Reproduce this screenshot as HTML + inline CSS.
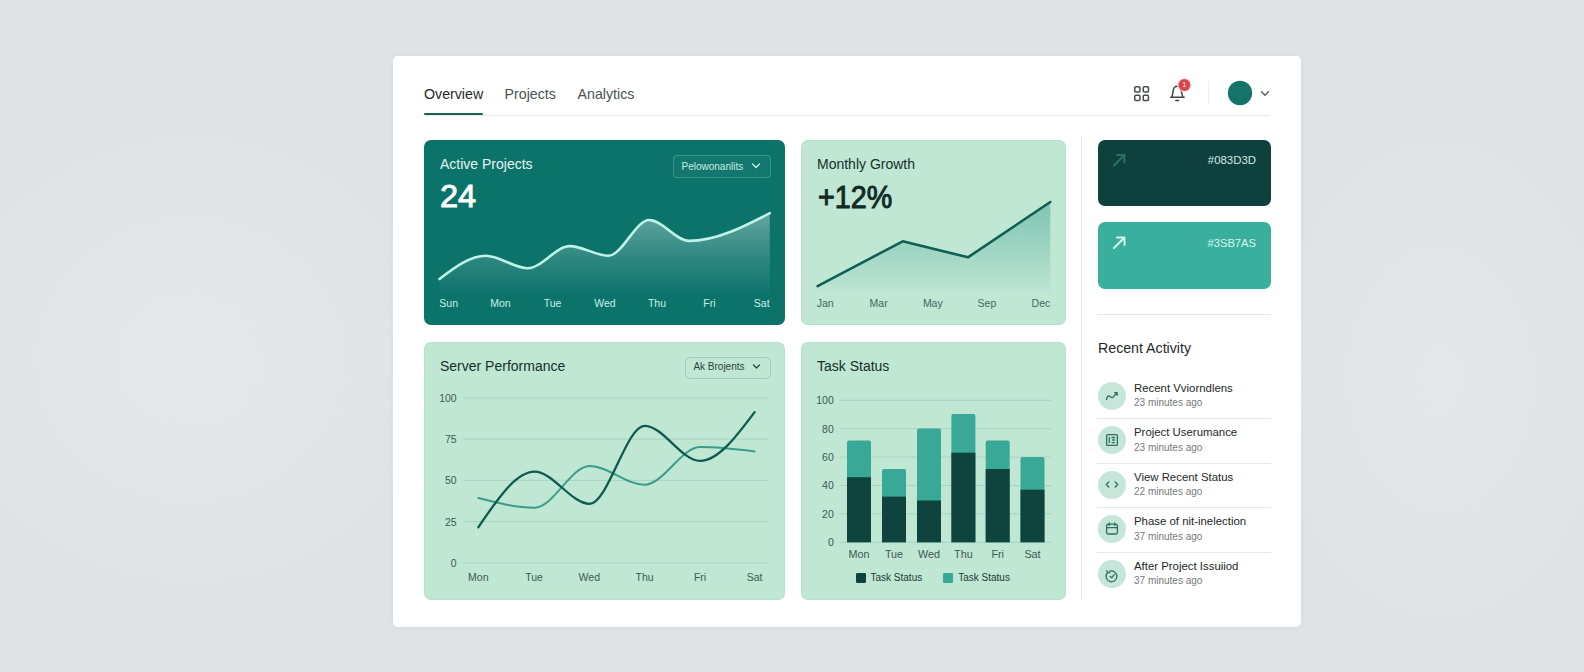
<!DOCTYPE html>
<html><head><meta charset="utf-8">
<style>
html,body{margin:0;padding:0;}
body{width:1584px;height:672px;overflow:hidden;position:relative;background:radial-gradient(ellipse 260px 240px at 190px 360px, rgba(234,237,239,0.6), rgba(236,239,241,0)),radial-gradient(ellipse 180px 260px at 1440px 380px, rgba(234,237,239,0.5), rgba(236,239,241,0)),#dfe3e5;font-family:"Liberation Sans", sans-serif;}
.t{position:absolute;white-space:nowrap;}
.b{position:absolute;}
svg{position:absolute;left:0;top:0;}
</style></head><body>
<div class="b" style="left:393px;top:56px;width:908px;height:571px;background:#ffffff;border-radius:5px;box-shadow:0 0 6px rgba(0,0,0,0.04);"></div>
<div class="t" style="left:424.00px;top:86.98px;font-size:14.2px;line-height:14.2px;color:#1f2a2a;font-weight:normal;">Overview</div>
<div class="t" style="left:504.60px;top:86.98px;font-size:14.2px;line-height:14.2px;color:#4a5252;font-weight:normal;">Projects</div>
<div class="t" style="left:577.60px;top:86.98px;font-size:14.2px;line-height:14.2px;color:#4a5252;font-weight:normal;">Analytics</div>
<div class="b" style="left:424px;top:114.5px;width:846px;height:1px;background:#e6e9e9;border-radius:0px;"></div>
<div class="b" style="left:424px;top:113px;width:58.5px;height:2.2px;background:#1d5e57;border-radius:1px;"></div>
<div class="b" style="left:424px;top:140px;width:361px;height:185px;background:#0c736b;border-radius:7px;"></div>
<div class="b" style="left:801px;top:140px;width:265px;height:185px;background:#c0e6d4;border-radius:7px;box-shadow:inset 0 0 0 1px rgba(90,150,130,0.07);"></div>
<div class="b" style="left:424px;top:341.5px;width:361px;height:258.5px;background:#c0e6d4;border-radius:7px;box-shadow:inset 0 0 0 1px rgba(90,150,130,0.07);"></div>
<div class="b" style="left:801px;top:341.5px;width:265px;height:258.5px;background:#c0e6d4;border-radius:7px;box-shadow:inset 0 0 0 1px rgba(90,150,130,0.07);"></div>
<div class="b" style="left:1081px;top:137px;width:1.2px;height:463px;background:#e6e8e8;border-radius:0px;"></div>
<div class="b" style="left:1098px;top:140px;width:173px;height:66px;background:#0e403d;border-radius:7px;"></div>
<div class="b" style="left:1098px;top:222px;width:173px;height:67px;background:#3aaf9d;border-radius:7px;"></div>
<div class="b" style="left:1097px;top:313.5px;width:174px;height:1px;background:#e4e7e7;border-radius:0px;"></div>
<div class="t" style="left:440.00px;top:157.15px;font-size:14px;line-height:14px;color:#e6f5f1;font-weight:normal;">Active Projects</div>
<div class="t" style="left:439.50px;top:181.36px;font-size:31px;line-height:31px;color:#ffffff;font-weight:normal;-webkit-text-stroke:0.9px #ffffff;transform:scaleX(1.05);transform-origin:0 50%;">24</div>
<div class="t" style="left:817.00px;top:157.15px;font-size:14px;line-height:14px;color:#15302c;font-weight:normal;">Monthly Growth</div>
<div class="t" style="left:818.00px;top:183.51px;font-size:28.7px;line-height:28.7px;color:#102a26;font-weight:normal;-webkit-text-stroke:0.9px #102a26;transform:scaleY(1.08);transform-origin:0 85%;">+12%</div>
<div class="t" style="left:440.00px;top:359.15px;font-size:14px;line-height:14px;color:#15302c;font-weight:normal;">Server Performance</div>
<div class="t" style="left:817.00px;top:359.15px;font-size:14px;line-height:14px;color:#15302c;font-weight:normal;">Task Status</div>
<div class="t" style="left:1098.00px;top:340.98px;font-size:14.2px;line-height:14.2px;color:#1f2a2a;font-weight:normal;">Recent Activity</div>
<div class="b" style="left:673px;top:155px;width:96px;height:21px;background:rgba(255,255,255,0.03);border-radius:4px;border:1px solid rgba(110,200,185,0.38);"></div>
<div class="t" style="left:681.50px;top:161.53px;font-size:10px;line-height:10px;color:#c6ebe2;font-weight:normal;">Pelowonanlits</div>
<div class="b" style="left:685px;top:357px;width:84px;height:20px;background:transparent;border-radius:4px;border:1px solid rgba(120,170,155,0.45);"></div>
<div class="t" style="left:693.40px;top:362.24px;font-size:10px;line-height:10px;color:#2a453f;font-weight:normal;">Ak Brojents</div>
<div class="t" style="left:248.70px;width:400px;text-align:center;top:298.41px;font-size:10.5px;line-height:10.5px;color:#c6f0e6;font-weight:normal;">Sun</div>
<div class="t" style="left:300.40px;width:400px;text-align:center;top:298.41px;font-size:10.5px;line-height:10.5px;color:#c6f0e6;font-weight:normal;">Mon</div>
<div class="t" style="left:352.60px;width:400px;text-align:center;top:298.41px;font-size:10.5px;line-height:10.5px;color:#c6f0e6;font-weight:normal;">Tue</div>
<div class="t" style="left:404.90px;width:400px;text-align:center;top:298.41px;font-size:10.5px;line-height:10.5px;color:#c6f0e6;font-weight:normal;">Wed</div>
<div class="t" style="left:457.00px;width:400px;text-align:center;top:298.41px;font-size:10.5px;line-height:10.5px;color:#c6f0e6;font-weight:normal;">Thu</div>
<div class="t" style="left:509.40px;width:400px;text-align:center;top:298.41px;font-size:10.5px;line-height:10.5px;color:#c6f0e6;font-weight:normal;">Fri</div>
<div class="t" style="left:561.70px;width:400px;text-align:center;top:298.41px;font-size:10.5px;line-height:10.5px;color:#c6f0e6;font-weight:normal;">Sat</div>
<div class="t" style="left:625.10px;width:400px;text-align:center;top:298.11px;font-size:10.5px;line-height:10.5px;color:#3f6a60;font-weight:normal;">Jan</div>
<div class="t" style="left:678.60px;width:400px;text-align:center;top:298.11px;font-size:10.5px;line-height:10.5px;color:#3f6a60;font-weight:normal;">Mar</div>
<div class="t" style="left:732.80px;width:400px;text-align:center;top:298.11px;font-size:10.5px;line-height:10.5px;color:#3f6a60;font-weight:normal;">May</div>
<div class="t" style="left:786.90px;width:400px;text-align:center;top:298.11px;font-size:10.5px;line-height:10.5px;color:#3f6a60;font-weight:normal;">Sep</div>
<div class="t" style="left:840.90px;width:400px;text-align:center;top:298.11px;font-size:10.5px;line-height:10.5px;color:#3f6a60;font-weight:normal;">Dec</div>
<div class="t" style="left:56.70px;width:400px;text-align:right;top:392.91px;font-size:10.5px;line-height:10.5px;color:#3b5a53;font-weight:normal;">100</div>
<div class="t" style="left:56.70px;width:400px;text-align:right;top:434.11px;font-size:10.5px;line-height:10.5px;color:#3b5a53;font-weight:normal;">75</div>
<div class="t" style="left:56.70px;width:400px;text-align:right;top:475.31px;font-size:10.5px;line-height:10.5px;color:#3b5a53;font-weight:normal;">50</div>
<div class="t" style="left:56.70px;width:400px;text-align:right;top:516.51px;font-size:10.5px;line-height:10.5px;color:#3b5a53;font-weight:normal;">25</div>
<div class="t" style="left:56.70px;width:400px;text-align:right;top:557.71px;font-size:10.5px;line-height:10.5px;color:#3b5a53;font-weight:normal;">0</div>
<div class="t" style="left:278.30px;width:400px;text-align:center;top:571.51px;font-size:10.5px;line-height:10.5px;color:#3b5a53;font-weight:normal;">Mon</div>
<div class="t" style="left:334.00px;width:400px;text-align:center;top:571.51px;font-size:10.5px;line-height:10.5px;color:#3b5a53;font-weight:normal;">Tue</div>
<div class="t" style="left:389.30px;width:400px;text-align:center;top:571.51px;font-size:10.5px;line-height:10.5px;color:#3b5a53;font-weight:normal;">Wed</div>
<div class="t" style="left:444.60px;width:400px;text-align:center;top:571.51px;font-size:10.5px;line-height:10.5px;color:#3b5a53;font-weight:normal;">Thu</div>
<div class="t" style="left:500.00px;width:400px;text-align:center;top:571.51px;font-size:10.5px;line-height:10.5px;color:#3b5a53;font-weight:normal;">Fri</div>
<div class="t" style="left:554.60px;width:400px;text-align:center;top:571.51px;font-size:10.5px;line-height:10.5px;color:#3b5a53;font-weight:normal;">Sat</div>
<div class="t" style="left:433.80px;width:400px;text-align:right;top:395.21px;font-size:10.5px;line-height:10.5px;color:#3b5a53;font-weight:normal;">100</div>
<div class="t" style="left:433.80px;width:400px;text-align:right;top:423.61px;font-size:10.5px;line-height:10.5px;color:#3b5a53;font-weight:normal;">80</div>
<div class="t" style="left:433.80px;width:400px;text-align:right;top:452.01px;font-size:10.5px;line-height:10.5px;color:#3b5a53;font-weight:normal;">60</div>
<div class="t" style="left:433.80px;width:400px;text-align:right;top:480.41px;font-size:10.5px;line-height:10.5px;color:#3b5a53;font-weight:normal;">40</div>
<div class="t" style="left:433.80px;width:400px;text-align:right;top:508.81px;font-size:10.5px;line-height:10.5px;color:#3b5a53;font-weight:normal;">20</div>
<div class="t" style="left:433.80px;width:400px;text-align:right;top:537.21px;font-size:10.5px;line-height:10.5px;color:#3b5a53;font-weight:normal;">0</div>
<div class="t" style="left:659.00px;width:400px;text-align:center;top:549.36px;font-size:10.8px;line-height:10.8px;color:#3b5a53;font-weight:normal;">Mon</div>
<div class="t" style="left:694.00px;width:400px;text-align:center;top:549.36px;font-size:10.8px;line-height:10.8px;color:#3b5a53;font-weight:normal;">Tue</div>
<div class="t" style="left:729.00px;width:400px;text-align:center;top:549.36px;font-size:10.8px;line-height:10.8px;color:#3b5a53;font-weight:normal;">Wed</div>
<div class="t" style="left:763.40px;width:400px;text-align:center;top:549.36px;font-size:10.8px;line-height:10.8px;color:#3b5a53;font-weight:normal;">Thu</div>
<div class="t" style="left:797.70px;width:400px;text-align:center;top:549.36px;font-size:10.8px;line-height:10.8px;color:#3b5a53;font-weight:normal;">Fri</div>
<div class="t" style="left:832.50px;width:400px;text-align:center;top:549.36px;font-size:10.8px;line-height:10.8px;color:#3b5a53;font-weight:normal;">Sat</div>
<div class="b" style="left:856px;top:572.5px;width:10px;height:10px;background:#0f433d;border-radius:1.2px;"></div>
<div class="b" style="left:943px;top:572.5px;width:10px;height:10px;background:#3aa896;border-radius:1.2px;"></div>
<div class="t" style="left:870.50px;top:572.93px;font-size:10px;line-height:10px;color:#1e3a35;font-weight:normal;">Task Status</div>
<div class="t" style="left:958.20px;top:572.93px;font-size:10px;line-height:10px;color:#1e3a35;font-weight:normal;">Task Status</div>
<div class="t" style="left:856.00px;width:400px;text-align:right;top:154.65px;font-size:11.4px;line-height:11.4px;color:#d5e9e5;font-weight:normal;">#083D3D</div>
<div class="t" style="left:856.00px;width:400px;text-align:right;top:238.12px;font-size:11.2px;line-height:11.2px;color:#d9f6ef;font-weight:normal;">#3SB7AS</div>
<div class="b" style="left:1098px;top:381.5px;width:28px;height:28px;background:#c6e6d9;border-radius:14px;"></div>
<div class="t" style="left:1134.00px;top:382.95px;font-size:11.4px;line-height:11.4px;color:#222826;font-weight:normal;">Recent Vviorndlens</div>
<div class="t" style="left:1134.00px;top:398.44px;font-size:10px;line-height:10px;color:#757a7a;font-weight:normal;">23 minutes ago</div>
<div class="b" style="left:1097px;top:418.0px;width:174px;height:1px;background:#e6e8e8;border-radius:0px;"></div>
<div class="b" style="left:1098px;top:426.0px;width:28px;height:28px;background:#c6e6d9;border-radius:14px;"></div>
<div class="t" style="left:1134.00px;top:427.45px;font-size:11.4px;line-height:11.4px;color:#222826;font-weight:normal;">Project Userumance</div>
<div class="t" style="left:1134.00px;top:442.94px;font-size:10px;line-height:10px;color:#757a7a;font-weight:normal;">23 minutes ago</div>
<div class="b" style="left:1097px;top:462.5px;width:174px;height:1px;background:#e6e8e8;border-radius:0px;"></div>
<div class="b" style="left:1098px;top:470.5px;width:28px;height:28px;background:#c6e6d9;border-radius:14px;"></div>
<div class="t" style="left:1134.00px;top:471.95px;font-size:11.4px;line-height:11.4px;color:#222826;font-weight:normal;">View Recent Status</div>
<div class="t" style="left:1134.00px;top:487.44px;font-size:10px;line-height:10px;color:#757a7a;font-weight:normal;">22 minutes ago</div>
<div class="b" style="left:1097px;top:507.0px;width:174px;height:1px;background:#e6e8e8;border-radius:0px;"></div>
<div class="b" style="left:1098px;top:515.0px;width:28px;height:28px;background:#c6e6d9;border-radius:14px;"></div>
<div class="t" style="left:1134.00px;top:516.45px;font-size:11.4px;line-height:11.4px;color:#222826;font-weight:normal;">Phase of nit-inelection</div>
<div class="t" style="left:1134.00px;top:531.93px;font-size:10px;line-height:10px;color:#757a7a;font-weight:normal;">37 minutes ago</div>
<div class="b" style="left:1097px;top:551.5px;width:174px;height:1px;background:#e6e8e8;border-radius:0px;"></div>
<div class="b" style="left:1098px;top:559.5px;width:28px;height:28px;background:#c6e6d9;border-radius:14px;"></div>
<div class="t" style="left:1134.00px;top:560.95px;font-size:11.4px;line-height:11.4px;color:#222826;font-weight:normal;">After Project Issuiiod</div>
<div class="t" style="left:1134.00px;top:576.43px;font-size:10px;line-height:10px;color:#757a7a;font-weight:normal;">37 minutes ago</div>
<svg width="1584" height="672" viewBox="0 0 1584 672">
<defs>
<linearGradient id="g1" gradientUnits="userSpaceOnUse" x1="0" y1="213" x2="0" y2="296"><stop offset="0" stop-color="#ffffff" stop-opacity="0.36"/><stop offset="0.55" stop-color="#ffffff" stop-opacity="0.14"/><stop offset="1" stop-color="#ffffff" stop-opacity="0"/></linearGradient>
<linearGradient id="g2" gradientUnits="userSpaceOnUse" x1="0" y1="202" x2="0" y2="296"><stop offset="0" stop-color="#2e9a88" stop-opacity="0.45"/><stop offset="1" stop-color="#2e9a88" stop-opacity="0.0"/></linearGradient>
</defs>
<path d="M439.5,279.0 C454.9,267.3 470.3,255.7 485.7,255.7 C499.7,255.7 513.7,268.2 527.7,268.2 C541.7,268.2 555.8,246.1 569.8,246.1 C582.7,246.1 595.5,255.7 608.4,255.7 C622.0,255.7 635.7,220.0 649.3,220.0 C662.5,220.0 675.8,240.9 689.0,240.9 C715.9,240.9 742.9,227.1 769.8,213.2 L769.8,296 L439.5,296 Z" fill="url(#g1)"/>
<path d="M439.5,279.0 C454.9,267.3 470.3,255.7 485.7,255.7 C499.7,255.7 513.7,268.2 527.7,268.2 C541.7,268.2 555.8,246.1 569.8,246.1 C582.7,246.1 595.5,255.7 608.4,255.7 C622.0,255.7 635.7,220.0 649.3,220.0 C662.5,220.0 675.8,240.9 689.0,240.9 C715.9,240.9 742.9,227.1 769.8,213.2" fill="none" stroke="#bff3e7" stroke-width="2.6" stroke-linecap="round"/>
<path d="M817.6,286.1 L902.7,241.3 L968,257.3 L1050.3,202 L1050.3,292 L817.6,292 Z" fill="url(#g2)"/>
<path d="M817.6,286.1 L902.7,241.3 L968,257.3 L1050.3,202" fill="none" stroke="#0f5f55" stroke-width="2.6" stroke-linecap="round" stroke-linejoin="round"/>
<line x1="463.5" y1="398.0" x2="768.7" y2="398.0" stroke="#a9d3c1" stroke-width="1"/>
<line x1="463.5" y1="439.2" x2="768.7" y2="439.2" stroke="#a9d3c1" stroke-width="1"/>
<line x1="463.5" y1="480.4" x2="768.7" y2="480.4" stroke="#a9d3c1" stroke-width="1"/>
<line x1="463.5" y1="521.6" x2="768.7" y2="521.6" stroke="#a9d3c1" stroke-width="1"/>
<line x1="463.5" y1="562.8" x2="768.7" y2="562.8" stroke="#a9d3c1" stroke-width="1"/>
<path d="M478.3,497.9 C497.1,502.8 515.8,507.7 534.6,507.7 C552.9,507.7 571.3,466.1 589.6,466.1 C607.9,466.1 626.3,484.8 644.6,484.8 C663.1,484.8 681.5,447.1 700.0,447.1 C718.2,447.1 736.4,449.2 754.6,451.4" fill="none" stroke="#3a9d89" stroke-width="2" stroke-linecap="round"/>
<path d="M478.3,527.3 C497.1,499.5 515.8,471.7 534.6,471.7 C552.9,471.7 571.3,503.8 589.6,503.8 C607.9,503.8 626.3,425.8 644.6,425.8 C663.1,425.8 681.5,460.9 700.0,460.9 C718.2,460.9 736.4,436.5 754.6,412.1" fill="none" stroke="#0d5a4f" stroke-width="2.3" stroke-linecap="round"/>
<line x1="839.4" y1="400.3" x2="1051.2" y2="400.3" stroke="#a9d3c1" stroke-width="1"/>
<line x1="839.4" y1="428.7" x2="1051.2" y2="428.7" stroke="#a9d3c1" stroke-width="1"/>
<line x1="839.4" y1="457.1" x2="1051.2" y2="457.1" stroke="#a9d3c1" stroke-width="1"/>
<line x1="839.4" y1="485.5" x2="1051.2" y2="485.5" stroke="#a9d3c1" stroke-width="1"/>
<line x1="839.4" y1="513.9" x2="1051.2" y2="513.9" stroke="#a9d3c1" stroke-width="1"/>
<line x1="839.4" y1="542.3" x2="1051.2" y2="542.3" stroke="#a9d3c1" stroke-width="1"/>
<path d="M847,542.3 V442.6 Q847,440.6 849,440.6 H869 Q871,440.6 871,442.6 V542.3 Z" fill="#3aa896"/>
<rect x="847" y="477.2" width="24" height="65.09999999999997" fill="#0f433d"/>
<path d="M882,542.3 V471 Q882,469 884,469 H904 Q906,469 906,471 V542.3 Z" fill="#3aa896"/>
<rect x="882" y="496.6" width="24" height="45.69999999999993" fill="#0f433d"/>
<path d="M917,542.3 V430.5 Q917,428.5 919,428.5 H939 Q941,428.5 941,430.5 V542.3 Z" fill="#3aa896"/>
<rect x="917" y="500.5" width="24" height="41.799999999999955" fill="#0f433d"/>
<path d="M951.4,542.3 V416 Q951.4,414 953.4,414 H973.4 Q975.4,414 975.4,416 V542.3 Z" fill="#3aa896"/>
<rect x="951.4" y="452.7" width="24" height="89.59999999999997" fill="#0f433d"/>
<path d="M985.7,542.3 V442.6 Q985.7,440.6 987.7,440.6 H1007.7 Q1009.7,440.6 1009.7,442.6 V542.3 Z" fill="#3aa896"/>
<rect x="985.7" y="469" width="24" height="73.29999999999995" fill="#0f433d"/>
<path d="M1020.5,542.3 V459 Q1020.5,457 1022.5,457 H1042.5 Q1044.5,457 1044.5,459 V542.3 Z" fill="#3aa896"/>
<rect x="1020.5" y="489.7" width="24" height="52.599999999999966" fill="#0f433d"/>
<path d="M752.5,164 L756,167.5 L759.5,164" fill="none" stroke="#cdeee6" stroke-width="1.3" stroke-linecap="round" stroke-linejoin="round"/>
<path d="M753.5,365 L756.5,368 L759.5,365" fill="none" stroke="#2a453f" stroke-width="1.2" stroke-linecap="round" stroke-linejoin="round"/>
<path d="M1114,165.5 L1124.5,155 M1117,155 H1124.5 V162.5" fill="none" stroke="#2a7364" stroke-width="2" stroke-linecap="round" stroke-linejoin="round"/>
<path d="M1114,248 L1124.5,237.5 M1117,237.5 H1124.5 V245" fill="none" stroke="#d6f7ef" stroke-width="2" stroke-linecap="round" stroke-linejoin="round"/>
<rect x="1134.75" y="86.75" width="5.2" height="5.2" rx="1" fill="none" stroke="#474d4d" stroke-width="1.5"/>
<rect x="1143.25" y="86.75" width="5.2" height="5.2" rx="1" fill="none" stroke="#474d4d" stroke-width="1.5"/>
<rect x="1134.75" y="95.25" width="5.2" height="5.2" rx="1" fill="none" stroke="#474d4d" stroke-width="1.5"/>
<rect x="1143.25" y="95.25" width="5.2" height="5.2" rx="1" fill="none" stroke="#474d4d" stroke-width="1.5"/>
<path d="M1170.6,97.3 H1184.2 M1171.9,97.3 L1173.3,90.2 C1173.8,87.6 1175.2,86.3 1177.2,86.3 C1179.2,86.3 1180.6,87.6 1181.1,90.2 L1182.8,97.3 M1175.9,100.4 H1178.5" fill="none" stroke="#3f4545" stroke-width="1.5" stroke-linecap="round" stroke-linejoin="round"/>
<circle cx="1184.4" cy="84.9" r="7.2" fill="#fde8e8"/><circle cx="1184.4" cy="84.9" r="6" fill="#d9474b"/>
<line x1="1208.5" y1="81" x2="1208.5" y2="104" stroke="#eceeee" stroke-width="1"/>
<circle cx="1240" cy="93" r="12.2" fill="#15736a"/>
<path d="M1261.5,91.8 L1265,95.3 L1268.5,91.8" fill="none" stroke="#555b5b" stroke-width="1.4" stroke-linecap="round" stroke-linejoin="round"/>
<g fill="none" stroke="#2f6e62" stroke-width="1.3" stroke-linecap="round" stroke-linejoin="round">
<path d="M1106.5,399.5 C1107.2,396 1109,395 1110.3,396.6 C1111.6,398.2 1113,398 1114,396 L1116.8,393.2 M1114.6,392.6 H1117.2 V395.2"/>
<rect x="1106.6" y="434.6" width="10.8" height="10.8" rx="1"/><path d="M1109.3,437.5 V442.5 M1112,437.5 H1114.6 M1112.6,440 H1114.6 M1112,442.6 H1114.6"/>
<path d="M1108.8,482 L1106.3,484.5 L1108.8,487 M1115.2,482 L1117.7,484.5 L1115.2,487"/>
<rect x="1106.6" y="524.2" width="10.8" height="9.8" rx="1.5"/><path d="M1106.6,527.6 H1117.4 M1109.2,522.8 V525.4 M1114.8,522.8 V525.4"/>
<path d="M1107.4,572.8 A5.4,5.4 0 1 0 1109.6,571.3 M1106.8,570.6 L1107.4,572.9 L1109.7,572.6 M1110.2,576.4 L1111.7,577.8 L1114.2,574.6"/>
</g>
<text x="1184.4" y="87.3" font-size="6.5" fill="#ffffff" text-anchor="middle" font-family="Liberation Sans">1</text>
</svg>
</body></html>
